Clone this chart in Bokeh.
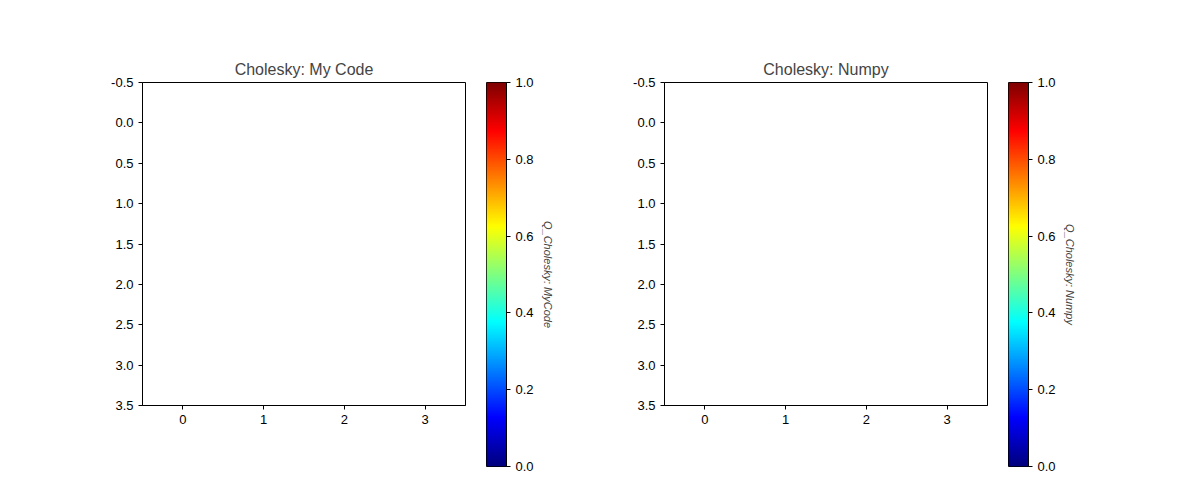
import numpy as np
from bokeh.plotting import figure
from bokeh.layouts import row
from bokeh.models import FixedTicker, PrintfTickFormatter, Range1d
from bokeh.embed import file_html
from bokeh.resources import INLINE

titles = ["Cholesky: My Code", "Cholesky: Numpy"]
cb_labels = ["Q_Cholesky: MyCode", "Q_Cholesky: Numpy"]
mat_mycode = [[1, 0, 0, 0], [0, 1, 0, 0], [0, 0, 1, 0], [0, 0, 0, 1]]
mat_numpy = [[1, 0, 0, 0], [0, 1, 0, 0], [0, 0, 1, 0], [0, 0, 0, 1]]
x_ticks = [0, 1, 2, 3]
y_ticks = [-0.5, 0.0, 0.5, 1.0, 1.5, 2.0, 2.5, 3.0, 3.5]
cb_ticks = [0.0, 0.2, 0.4, 0.6, 0.8, 1.0]

def jet(n=256):
    out = []
    for i in range(n):
        x = i / (n - 1)
        r = min(max(1.5 - abs(4 * x - 3), 0), 1)
        g = min(max(1.5 - abs(4 * x - 2), 0), 1)
        b = min(max(1.5 - abs(4 * x - 1), 0), 1)
        out.append("#%02x%02x%02x" % (int(r * 255), int(g * 255), int(b * 255)))
    return out
JET = jet()

def style(p):
    p.grid.visible = False
    p.outline_line_color = "black"
    for ax in p.axis:
        ax.major_tick_out = 4
        ax.major_tick_in = 0
        ax.minor_tick_line_color = None
        ax.major_label_text_font_size = "13px"
        ax.major_label_text_color = "black"
        ax.axis_line_color = "black"

def heat(mat, title, left):
    p = figure(frame_width=323, frame_height=323, min_border_left=left,
               min_border_right=15, min_border_top=82, min_border_bottom=79,
               x_range=Range1d(-0.5, 3.5), y_range=Range1d(3.5, -0.5),
               output_backend="svg", toolbar_location=None, title=title)
    arr = np.array(mat, dtype=float)
    p.image(image=[arr[::-1]], x=-0.5, y=3.5, dw=4, dh=4, palette=JET, level="image")
    p.title.align = "center"
    p.title.text_font_size = "16px"
    p.title.text_font_style = "normal"
    p.xaxis.ticker = FixedTicker(ticks=x_ticks)
    p.yaxis.ticker = FixedTicker(ticks=y_ticks)
    p.yaxis.formatter = PrintfTickFormatter(format="%.1f")
    style(p)
    return p

def cbar(label):
    p = figure(frame_width=20, frame_height=384, width=80, min_border_left=6,
               min_border_top=52, min_border_bottom=48,
               x_range=Range1d(0, 1), y_range=Range1d(0, 1),
               y_axis_location="right",
               output_backend="svg", toolbar_location=None)
    grad = np.linspace(0, 1, 256).reshape(256, 1)
    p.image(image=[grad], x=0, y=0, dw=1, dh=1, palette=JET, level="image")
    p.xaxis.visible = False
    p.yaxis.ticker = FixedTicker(ticks=cb_ticks)
    p.yaxis.formatter = PrintfTickFormatter(format="%.1f")
    p.yaxis.axis_label = label
    p.yaxis.axis_label_text_font_size = "11px"
    p.yaxis.axis_label_text_font_style = "italic"
    style(p)
    return p

p = row(heat(mat_mycode, titles[0], 142), cbar(cb_labels[0]),
        heat(mat_numpy, titles[1], 108), cbar(cb_labels[1]))
open("out.html", "w").write(file_html(p, INLINE))
